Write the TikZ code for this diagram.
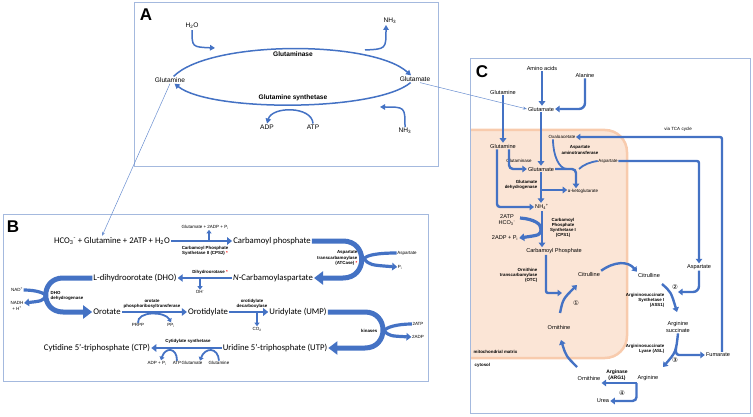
\documentclass[tikz,border=0pt]{standalone}
\usepackage{fontspec}
\setmainfont{Carlito}
\newfontfamily\arialfont{Liberation Sans}
\newfontfamily\symfont{DejaVu Sans}
\usetikzlibrary{positioning,arrows.meta}

\definecolor{flowblue}{HTML}{4472C4}
\definecolor{boxblue}{HTML}{A4B9DE}
\definecolor{matrixfill}{HTML}{FBE5D6}
\definecolor{matrixedge}{HTML}{F8CBAD}

\newcommand{\eqsz}{\fontsize{8.7}{9.5}\selectfont}
\newcommand{\labsz}{\arialfont\fontsize{5.6}{6.3}\selectfont}
\newcommand{\smsz}{\arialfont\fontsize{4.5}{5.1}\selectfont}
\newcommand{\enzsz}{\arialfont\bfseries\fontsize{4.4}{5.1}\selectfont}
\newcommand{\asz}{\arialfont\fontsize{6.6}{7.4}\selectfont}

\tikzset{
  eq/.style={font=\eqsz, inner sep=1pt},
  lab/.style={font=\labsz, inner sep=1pt, align=center},
  sml/.style={font=\smsz, inner sep=0.5pt, align=center},
  enz/.style={font=\enzsz, inner sep=0.5pt, align=center},
  alab/.style={font=\asz, inner sep=1pt},
  aenz/.style={font=\asz\bfseries, inner sep=1pt},
  circ/.style={font=\symfont\fontsize{6.5}{7}\selectfont, inner sep=0pt},
  letter/.style={font=\arialfont\bfseries\fontsize{17}{17}\selectfont, inner sep=0pt},
  panel/.style={draw=boxblue, line width=1pt},
  matrixsty/.style={draw=matrixedge, fill=matrixfill, line width=2.5pt, rounded corners=22pt},
  flow/.style={draw=flowblue, line width=2.6pt, -{Triangle[length=5pt,width=7.5pt]}},
  flowc/.style={draw=flowblue, line width=2.4pt, -{Triangle[length=4.5pt,width=6.5pt]}},
  flowsm/.style={draw=flowblue, line width=1.8pt, -{Triangle[length=3.5pt,width=5pt]}},
  flowline/.style={draw=flowblue, line width=1.8pt},
  uturn/.style={draw=flowblue, line width=5pt, -{Triangle[length=9pt,width=13pt]}},
  wedge/.style={draw=flowblue, line width=3.2pt, -{Triangle[length=5pt,width=7.5pt]}},
  arcA/.style={draw=flowblue, line width=1.5pt, -{Triangle[length=5pt,width=5.5pt]}},
  link/.style={draw=flowblue!80, line width=0.5pt, -{Stealth[length=4pt,width=3pt]}}
}

\begin{document}
\begin{tikzpicture}[x=1pt,y=-1pt]
  \useasboundingbox (0,0) rectangle (753,417);

  % panel A
  \draw[panel] (134,3) rectangle (438,167);
  \node[letter] (ltrA) at (146,15) {A};
  \node[alab] (glnA) at (170,80) {Glutamine};
  \node[alab] (gluA) at (415,79) {Glutamate};
  \node[alab] (h2oA) at (192,26) {H\textsubscript{2}O};
  \node[alab] (nh3A) at (390,21) {NH\textsubscript{3}};
  \node[alab] (nh3Ab) at (405,131) {NH\textsubscript{3}};
  \node[alab] (adpA) at (267,127) {ADP};
  \node[alab] (atpA) at (313,127) {ATP};
  \node[aenz] (glsA) at (293,54) {Glutaminase};
  \node[aenz] (gsA) at (293,98) {Glutamine synthetase};
  \coordinate (h2oIn) at (215,48);
  \coordinate (nh3Out) at (365,50);
  \coordinate (nh3In) at (380,107);

  \draw[arcA] ([shift={(6,-13)}]glnA) .. controls (210,40) and (372,40) .. ([shift={(-6,-15)}]gluA);
  \draw[arcA] ([shift={(-3,12)}]gluA) .. controls (375,112) and (210,112) .. ([shift={(6,13)}]glnA);
  \draw[arcA] (h2oA.south) .. controls (192,47) .. (h2oIn);
  \draw[arcA] (nh3Out) .. controls (386,49) .. ([xshift=-4pt]nh3A.south);
  \draw[arcA] (atpA.north) .. controls (312,106) and (272,106) .. (adpA.north);
  \draw[arcA] (nh3Ab.north) .. controls (405,107) .. (nh3In);

  % panel B
  \draw[panel] (3,215) rectangle (428,381);
  \node[letter] (ltrB) at (13,227) {B};
  \node[eq] (hco) at (112,241) {HCO\textsubscript{3}\textsuperscript{-} + Glutamine + 2ATP + H\textsubscript{2}O};
  \node[eq] (cp) at (272,241) {Carbamoyl phosphate};
  \node[eq] (ncasp) at (273,278) {\textit{N}-Carbamoylaspartate};
  \node[eq] (dho) at (135,278) {L-dihydroorotate (DHO)};
  \node[eq] (oro) at (107,312) {Orotate};
  \node[eq] (omp) at (208,312) {Orotidylate};
  \node[eq] (ump) at (298,312) {Uridylate (UMP)};
  \node[eq] (utp) at (275,348) {Uridine 5’-triphosphate (UTP)};
  \node[eq] (ctp) at (97,348) {Cytidine 5’-triphosphate (CTP)};
  \coordinate (glnB) at (102,236);

  \draw[flow] (hco) -- (cp);
  \draw[flow] (ncasp) -- (dho);
  \draw[flow] (oro) -- (omp);
  \draw[flow] (omp) -- (ump);
  \draw[flow] (utp) -- (ctp);

  \node[sml] (cps2in) at (205,227) {Glutamate + 2ADP + P\textsubscript{i}};
  \node[enz] (cps2) at (205,251) {Carbamoyl Phosphate\\Synthetase II (CPS2) \textcolor{red}{*}};
  \coordinate (cps2br) at (209,240);
  \draw[flowsm] (cps2br) -- (cps2br |- cps2in.south);

  \draw[uturn] (cp.east) -- (343,241) .. controls (368,241) and (368,278) .. (343,278) -- (ncasp.east);
  \node[enz, align=right, anchor=east] (atc) at (358,258) {Aspartate\\transcarbamoylase\\(ATCase) \textcolor{red}{*}};
  \node[sml] (aspB) at (407,253) {Aspartate};
  \node[sml] (piB) at (400,267) {P\textsubscript{i}};
  \draw[wedge] (aspB.west) .. controls (378,253) and (366,255) .. (364,259) .. controls (370,265) .. (piB.west);

  \node[enz] (dhoase) at (210,272) {Dihydroorotase \textcolor{red}{*}};
  \coordinate (dhoasebr) at (200,278);
  \node[sml] (ohB) at (200,292) {OH\textsuperscript{-}};
  \draw[flowsm] (dhoasebr) -- (ohB.north);

  \draw[uturn] (dho.west) -- (63,278) .. controls (40,278) and (40,312) .. (63,312) -- (oro.west);
  \node[enz, align=left, anchor=west] (dhodh) at (50,296) {DHO\\dehydrogenase};
  \node[sml] (nadB) at (17,290) {NAD\textsuperscript{+}};
  \node[sml] (nadhB) at (17,306) {NADH\\+ H\textsuperscript{+}};
  \draw[wedge] (nadB.east) .. controls (36,290) and (45,293) .. (46,296) .. controls (42,301) .. ([yshift=3pt]nadhB.east);

  \node[enz] (oprt) at (152,304) {orotate\\phosphoribosyltransferase};
  \node[sml] (prpp) at (138,325) {PRPP};
  \node[sml] (ppi) at (171,325) {PP\textsubscript{i}};
  \draw[flowsm] (prpp.north) .. controls (137,311) and (165,311) .. (ppi.north);

  \node[enz] (odc) at (252,304) {orotidylate\\decarboxylase};
  \coordinate (odcbr) at (257,312);
  \node[sml] (co2) at (257,329) {CO\textsubscript{2}};
  \draw[flowsm] (odcbr) -- (co2.north);

  \draw[uturn] (ump.east) -- (365,312) .. controls (389,312) and (389,348) .. (365,348) -- (utp.east);
  \node[enz, anchor=east] (kin) at (378,331) {kinases};
  \node[sml] (atp2B) at (418,324) {2ATP};
  \node[sml] (adp2B) at (418,337) {2ADP};
  \draw[wedge] (atp2B.west) .. controls (398,324) and (386,327) .. (384,331) .. controls (390,336) .. (adp2B.west);

  \node[enz] (ctps) at (188,341) {Cytidylate synthetase};
  \node[sml] (adppi) at (157,363) {ADP + P\textsubscript{i}};
  \node[sml] (atpB) at (177,363) {ATP};
  \node[sml] (gluB) at (192,363) {Glutamate};
  \node[sml] (glnB2) at (219,363) {Glutamine};
  \draw[flowsm] (atpB.north) .. controls (177,347) and (165,347) .. ([xshift=4pt]adppi.north);
  \draw[flowsm] (glnB2.north) .. controls (218,347) and (205,347) .. ([xshift=8pt]gluB.north);

  % panel C
  \draw[matrixsty] (471,130) -- (627,130) -- (627,358) -- (471,358);
  \draw[panel] (470,59) rectangle (750,413);
  \node[letter] (ltrC) at (482,72) {C};
  \node[lab] (aa) at (542,68) {Amino acids};
  \node[lab] (ala) at (585,75) {Alanine};
  \node[lab] (glnC) at (503,92) {Glutamine};
  \node[lab] (gluC) at (541,109) {Glutamate};
  \node[lab] (glnM) at (503,146) {Glutamine};
  \node[sml] (oaa) at (562,137) {Oxaloacetate};
  \node[enz] (ast) at (580,150) {Aspartate\\aminotransferase};
  \node[sml] (aspM) at (608,161) {Aspartate};
  \node[sml] (tca) at (678,129) {via TCA cycle};
  \node[lab] (gluM) at (541,169) {Glutamate};
  \node[sml] (glsC) at (519,161) {Glutaminase};
  \node[sml] (akg) at (583,191) {α-ketoglutarate};
  \node[enz, align=right, anchor=east] (gdh) at (538,185) {Glutamate\\dehydrogenase};
  \node[lab] (nh4) at (542,207) {NH\textsubscript{4}\textsuperscript{+}};
  \node[lab] (atpC) at (507,220) {2ATP\\HCO\textsubscript{3}\textsuperscript{-}};
  \node[lab] (adpC) at (505,238) {2ADP + P\textsubscript{i}};
  \node[enz] (cps1) at (563,228) {Carbamoyl\\Phosphate\\Synthetase I\\(CPS1)};
  \node[lab] (cpC) at (554,251) {Carbamoyl Phosphate};
  \node[enz, align=right, anchor=east] (otc) at (538,275) {Ornithine\\transcarbamylase\\(OTC)};
  \node[lab] (citM) at (589,274) {Citrulline};
  \node[circ] (n1) at (576,303) {①};
  \node[lab] (ornM) at (559,327) {Ornithine};
  \node[lab] (citC) at (649,275) {Citrulline};
  \node[lab] (aspC) at (699,267) {Aspartate};
  \node[circ] (n2) at (675,287) {②};
  \node[enz, align=right, anchor=east] (ass1) at (665,300) {Argininosuccinate\\Synthetase I\\(ASS1)};
  \node[lab] (asuc) at (678,327) {Arginine\\succinate};
  \node[enz, align=right, anchor=east] (asl) at (665,349) {Argininosuccinate\\Lyase (ASL)};
  \node[circ] (n3) at (675,360) {③};
  \node[lab] (fum) at (718,355) {Fumarate};
  \node[lab] (argC) at (648,378) {Arginine};
  \node[enz, font=\arialfont\bfseries\fontsize{5}{5.8}\selectfont] (arg1) at (617,375) {Arginase\\(ARG1)};
  \node[lab] (ornC) at (589,378) {Ornithine};
  \node[circ] (n4) at (622,393) {④};
  \node[lab] (urea) at (603,401) {Urea};
  \node[enz, anchor=west] (mito) at (473,352) {mitochondrial matrix};
  \node[enz, anchor=west] (cyto) at (474,365) {cytosol};

  \coordinate (gdhbr) at (541,190);
  \coordinate (astj1) at (567,169);
  \coordinate (astj2) at (579,169);
  \coordinate (cps1a) at (520,218);
  \coordinate (cps1b) at (541,230);
  \coordinate (otcend) at (562,293);
  \coordinate (ornOut) at (560,313);
  \coordinate (citIn) at (577,285);
  \coordinate (ass1in) at (678,292);
  \coordinate (citOut) at (662,284);
  \coordinate (asucin) at (677,312);
  \coordinate (aslout) at (663,367);
  \coordinate (aslbr) at (676,347);
  \coordinate (ornCout) at (577,367);
  \coordinate (ornMin) at (561,340);

  \draw[flowc] (aa.south) -- (aa.south |- gluC.north);
  \draw[flowc, rounded corners=6pt] (ala.south) |- (gluC.east);
  \draw[flowc] (glnC.south) -- (glnM.north);
  \draw[flowc] (gluC.south) -- (gluC.south |- gluM.north);
  \draw[flowc, rounded corners=4pt] ([xshift=6pt]glnM.south) |- (gluM.west);
  \draw[flowc, rounded corners=3pt] ([xshift=-6pt]glnM.south) |- (nh4.west);
  \draw[flowc] (gluM.south) -- (gluM.south |- nh4.north);
  \draw[flowc] (gdhbr) -- (gdhbr -| akg.west);
  \draw[flowc, rounded corners=4pt] (gluM.east) -| ([xshift=-7pt]akg.north);
  \draw[flowline] ([xshift=-9pt]oaa.south) .. controls +(0,16) and +(-8,0) .. (astj1);
  \draw[flowline] (aspM.west) .. controls (590,162) and (583,165) .. (astj2);
  \draw[flowc, rounded corners=2pt] ([xshift=4pt]fum.north) |- (oaa.east);
  \draw[flowc, rounded corners=2pt] (aspM.east) -| (aspC.north);
  \draw[wedge] (cps1a) .. controls (534,219) and (542,224) .. (cps1b) .. controls (540,235) .. (adpC.east);
  \draw[flowc] (nh4.south) -- (nh4.south |- cpC.north);
  \draw[flowc, rounded corners=2pt] ([xshift=-8pt]cpC.south) |- (otcend);
  \draw[flowc] (ornOut) .. controls (563,299) .. (citIn);
  \draw[flowc] (citM.north east) .. controls (615,261) and (628,261) .. (citC.north west);
  \draw[flowc, rounded corners=6pt] (aspC.south) |- (ass1in);
  \draw[flowc] (citOut) .. controls (671,292) .. (asucin);
  \draw[flowc] (asuc.south) .. controls (676,352) .. (aslout);
  \draw[flowc, rounded corners=3pt] (aslbr) |- (fum.west);
  \draw[flowc] ([yshift=-5pt]argC.west) -- ([yshift=-5pt]ornC.east);
  \draw[flowc, rounded corners=4pt] ([yshift=-5pt]argC.west) |- (urea.east);
  \draw[flowc] (ornCout) .. controls (566,356) .. (ornMin);

  % links between panels
  \draw[link] (glnA.south) -- (glnB);
  \draw[link] ([xshift=5pt]gluA.south) -- (gluC.west);
\end{tikzpicture}
\end{document}
